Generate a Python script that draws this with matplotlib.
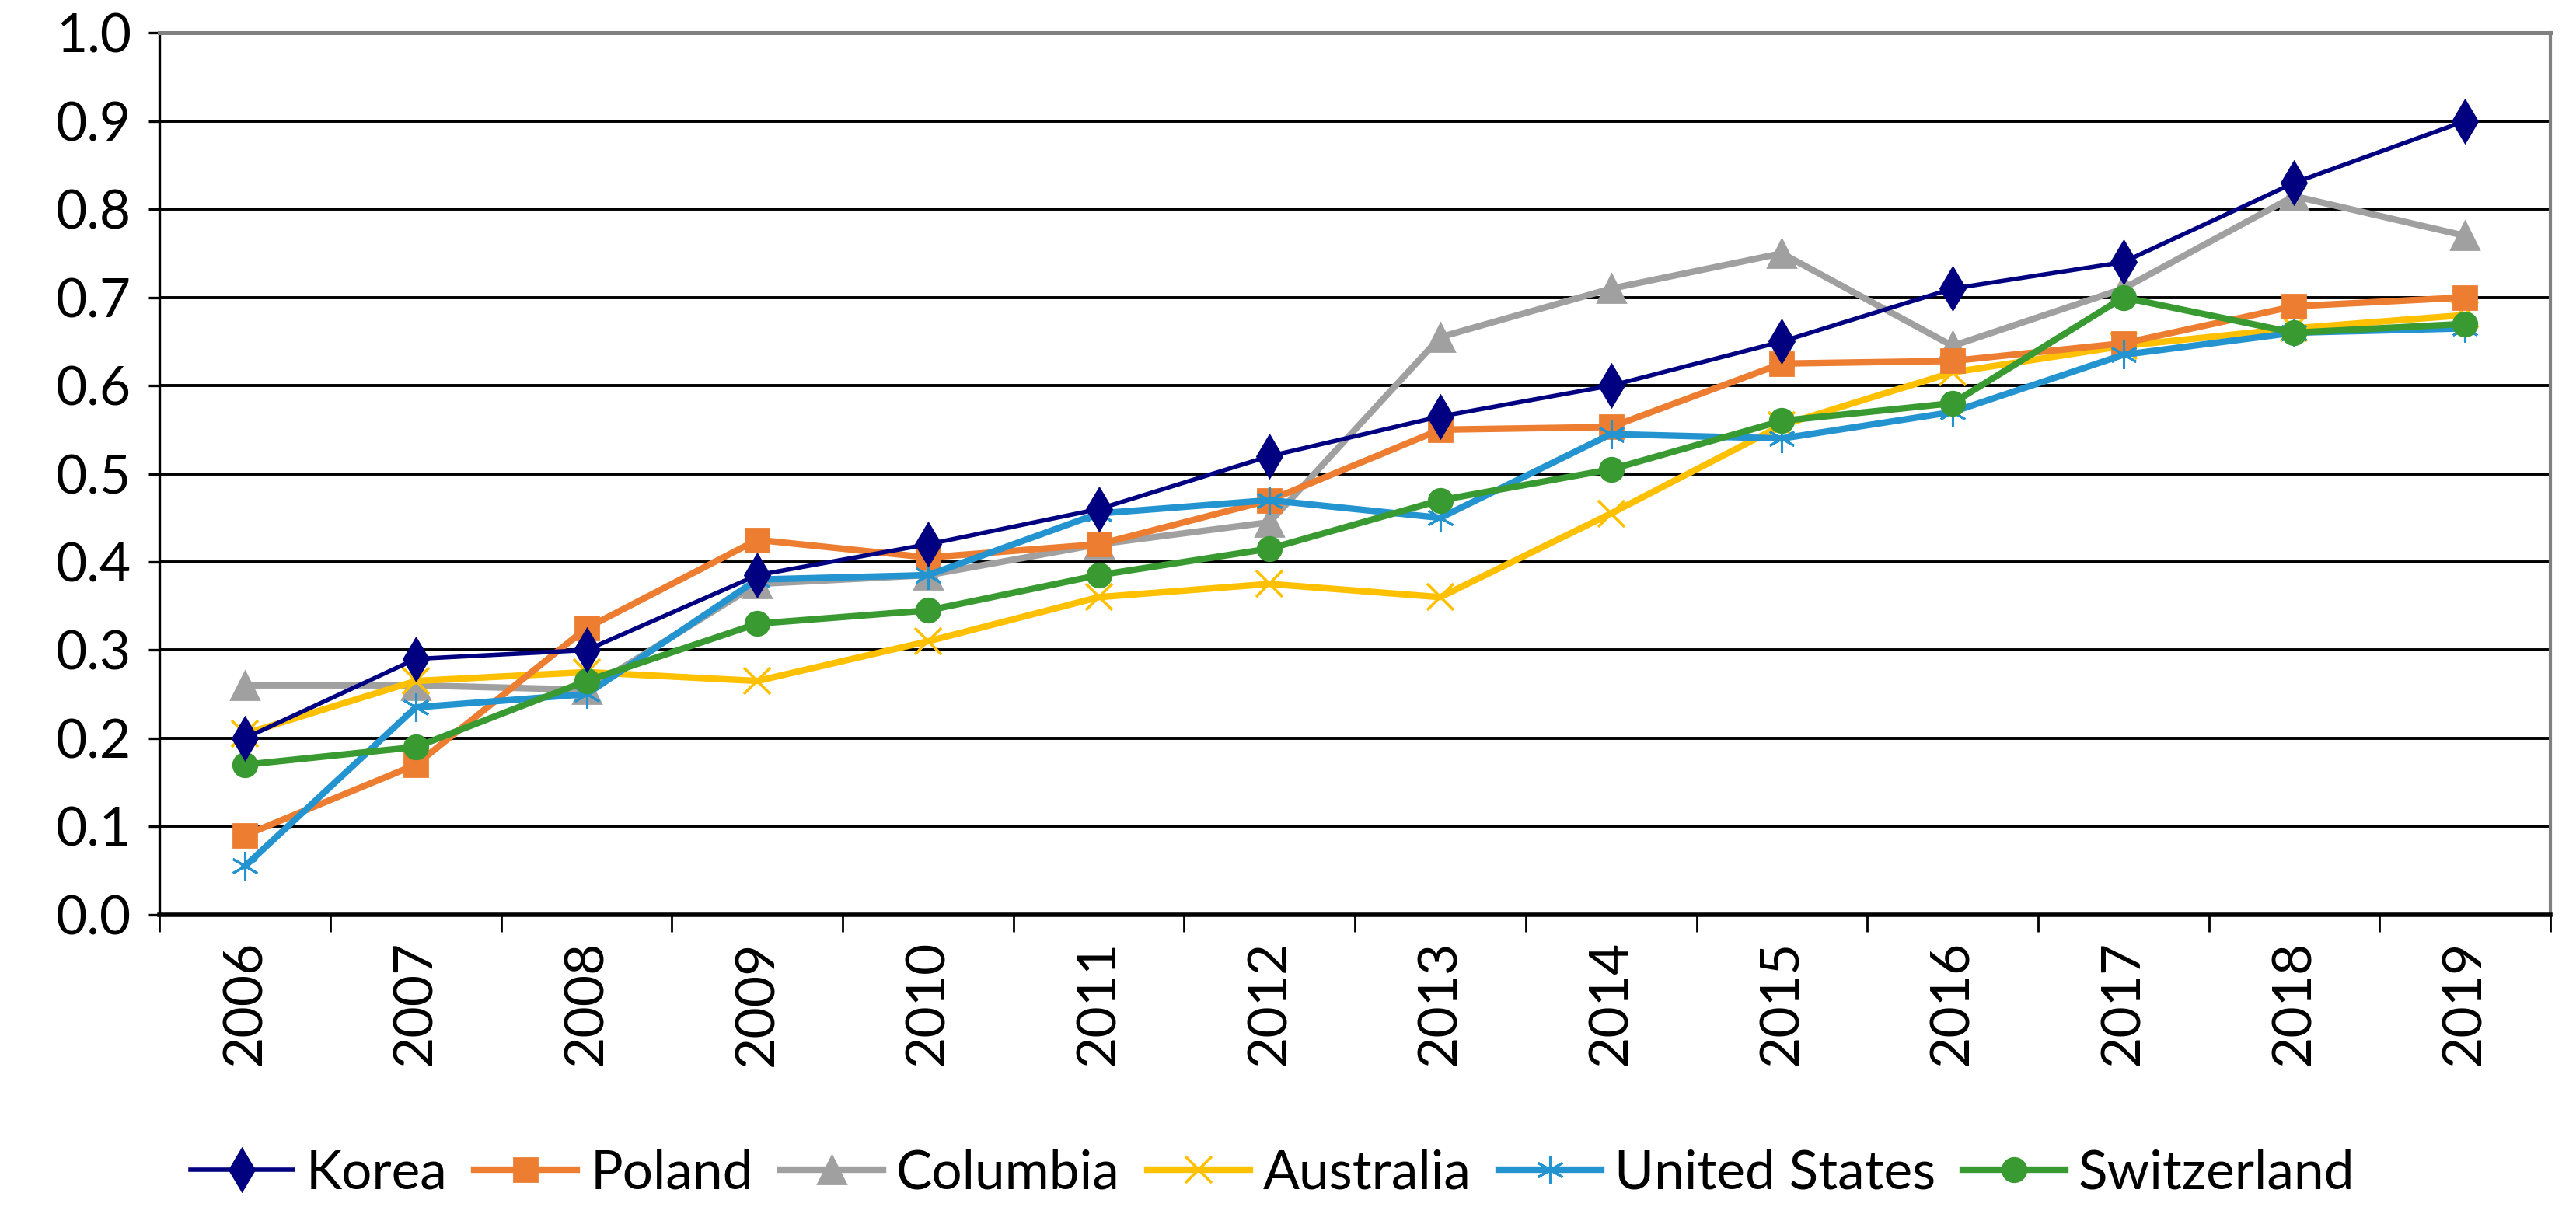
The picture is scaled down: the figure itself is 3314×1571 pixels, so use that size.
import matplotlib
matplotlib.use('Agg')
import matplotlib.pyplot as plt

plt.rcParams['font.family'] = ['Lato', 'DejaVu Sans']

years = ['2006', '2007', '2008', '2009', '2010', '2011', '2012',
         '2013', '2014', '2015', '2016', '2017', '2018', '2019']

korea = [0.20, 0.29, 0.30, 0.385, 0.42, 0.46, 0.52, 0.565, 0.60, 0.65, 0.71, 0.74, 0.83, 0.90]
poland = [0.09, 0.17, 0.325, 0.425, 0.405, 0.42, 0.47, 0.55, 0.553, 0.625, 0.628, 0.648, 0.69, 0.70]
columbia = [0.26, 0.26, 0.255, 0.375, 0.385, 0.42, 0.445, 0.655, 0.71, 0.75, 0.645, 0.71, 0.815, 0.77]
australia = [0.205, 0.265, 0.275, 0.265, 0.31, 0.36, 0.375, 0.36, 0.455, 0.555, 0.615, 0.645, 0.665, 0.68]
united_states = [0.055, 0.235, 0.25, 0.38, 0.385, 0.455, 0.47, 0.45, 0.545, 0.54, 0.57, 0.635, 0.66, 0.665]
switzerland = [0.17, 0.19, 0.265, 0.33, 0.345, 0.385, 0.415, 0.47, 0.505, 0.56, 0.58, 0.70, 0.66, 0.67]

fig = plt.figure(figsize=(16.57, 7.855), dpi=200)
ax = fig.add_axes([0.062, 0.251, 0.928, 0.722])

x = range(len(years))
ax.plot(x, korea, color='#000080', lw=2.0, marker='d', ms=14, label='Korea', zorder=5)
ax.plot(x, poland, color='#ED7D31', lw=3.0, marker='s', ms=11, label='Poland', zorder=4)
ax.plot(x, columbia, color='#A0A0A0', lw=3.0, marker='^', ms=13, label='Columbia', zorder=3)
ax.plot(x, australia, color='#FFC000', lw=3.0, marker='x', ms=12, mew=1.3, label='Australia', zorder=3)
ax.plot(x, united_states, color='#2394D0', lw=3.0, marker=(6, 2, 0), ms=13, mew=1.1, label='United States', zorder=4)
ax.plot(x, switzerland, color='#3A9A32', lw=3.0, marker='o', ms=11, label='Switzerland', zorder=4)

ax.set_xlim(-0.5, len(years) - 0.5)
ax.set_ylim(0, 1.0)
ax.set_yticks([i / 10 for i in range(11)])
ax.set_yticklabels(['%.1f' % (i / 10) for i in range(11)], fontsize=25)
ax.set_xticks(list(x))
ax.set_xticklabels(years, rotation=90, fontsize=25)
ax.tick_params(axis='x', length=0, pad=12)
ax.set_xticks([i - 0.5 for i in range(len(years) + 1)], minor=True)
ax.tick_params(axis='x', which='minor', length=8, width=1, direction='out')
ax.tick_params(axis='y', length=5, width=1.2, direction='out', pad=8)

ax.grid(axis='y', color='black', lw=1.4)
ax.set_axisbelow(True)
ax.spines['left'].set_color('black')
ax.spines['left'].set_linewidth(1.2)
ax.spines['bottom'].set_color('black')
ax.spines['bottom'].set_linewidth(2)
ax.spines['top'].set_color('#808080')
ax.spines['top'].set_linewidth(1.8)
ax.spines['right'].set_color('#808080')
ax.spines['right'].set_linewidth(1.5)

handles, labels = ax.get_legend_handles_labels()
fig.legend(handles, labels, loc='center', bbox_to_anchor=(0.494, 0.039), ncol=6,
           frameon=False, fontsize=25, handlelength=1.9, handletextpad=0.25, columnspacing=0.5)

fig.savefig('out.png', dpi=200)
